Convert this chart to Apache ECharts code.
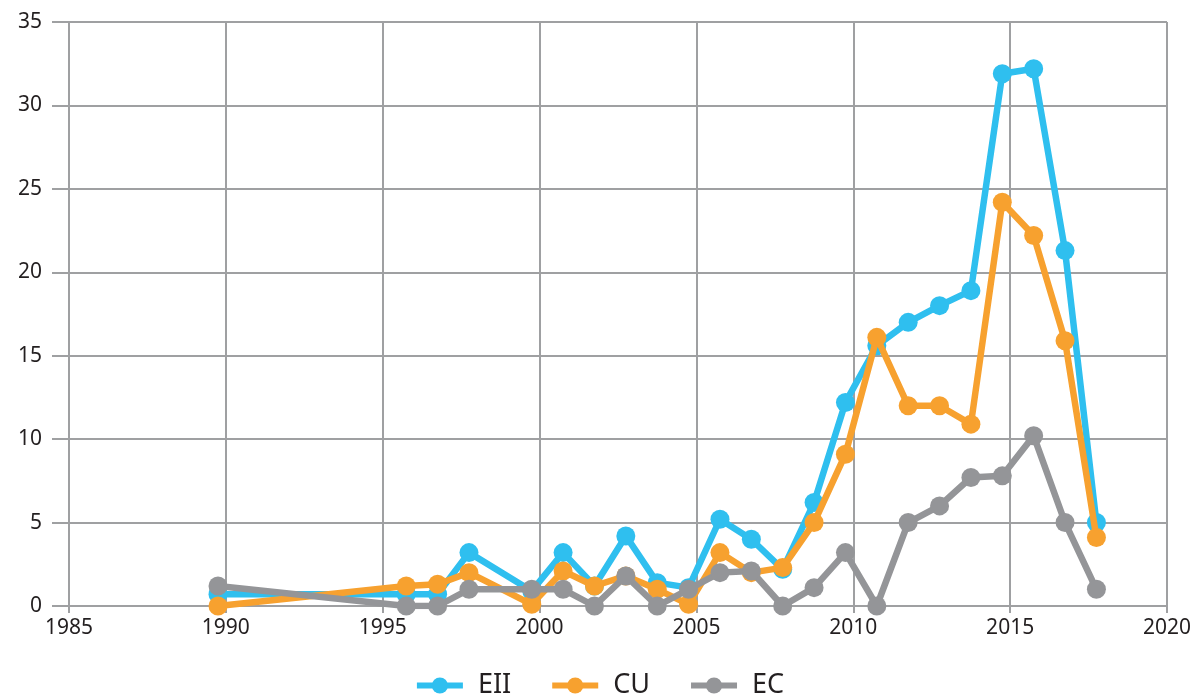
<!DOCTYPE html>
<html>
<head>
<meta charset="utf-8">
<script src="https://cdn.jsdelivr.net/npm/echarts@6/dist/echarts.min.js"></script>
<style>
  html, body { margin: 0; padding: 0; background: #fff; }
  #chart { width: 1198px; height: 698px; }
</style>
</head>
<body>
<div id="chart"></div>
<script>
// Observation dates (decimal years) and yearly counts per series
const dates = [1989.75, 1995.75, 1996.75, 1997.75, 1999.75, 2000.75, 2001.75, 2002.75, 2003.75,
               2004.75, 2005.75, 2006.75, 2007.75, 2008.75, 2009.75, 2010.75, 2011.75, 2012.75,
               2013.75, 2014.75, 2015.75, 2016.75, 2017.75];
const eii = [0.7, 0.7, 0.7, 3.2, 0.9, 3.2, 1.2, 4.2, 1.4, 1.1, 5.2, 4.0, 2.2, 6.2, 12.2, 15.6,
             17.0, 18.0, 18.9, 31.9, 32.2, 21.3, 5.0];
const cu  = [0.0, 1.2, 1.3, 2.0, 0.1, 2.1, 1.2, 1.8, 1.0, 0.1, 3.2, 2.0, 2.3, 5.0, 9.1, 16.1,
             12.0, 12.0, 10.9, 24.2, 22.2, 15.9, 4.1];
const ec  = [1.2, 0.0, 0.0, 1.0, 1.0, 1.0, 0.0, 1.8, 0.0, 1.0, 2.0, 2.1, 0.0, 1.1, 3.2, 0.0,
             5.0, 6.0, 7.7, 7.8, 10.2, 5.0, 1.0];

const seriesNames = ['EII', 'CU', 'EC'];
const seriesColors = ['#2fbfef', '#f7a12f', '#949598'];
const seriesValues = [eii, cu, ec];

const xTicks = { min: 1985, max: 2020, interval: 5 };
const yTicks = { min: 0, max: 35, interval: 5 };

const FONT = '"Noto Sans", "Open Sans", sans-serif';
const TEXT = '#231f20';
const GRID_LINE = '#9fa0a2';

const chart = echarts.init(document.getElementById('chart'), null, { renderer: 'canvas' });

chart.setOption({
  animation: false,
  backgroundColor: '#ffffff',
  grid: { left: 69, right: 31, top: 22, bottom: 92, containLabel: false },
  legend: {
    top: 667,
    left: 'center',
    itemWidth: 46,
    itemHeight: 20,
    itemGap: 38,
    lineStyle: { width: 6 },
    textStyle: { fontFamily: FONT, fontSize: 27, color: TEXT, padding: [0, 0, 0, 10] },
    data: seriesNames
  },
  xAxis: {
    type: 'value',
    min: xTicks.min, max: xTicks.max, interval: xTicks.interval,
    axisLine: { show: true, lineStyle: { color: GRID_LINE, width: 2 } },
    axisTick: { show: true, length: 7, lineStyle: { color: GRID_LINE, width: 2 } },
    splitLine: { show: true, lineStyle: { color: GRID_LINE, width: 2 } },
    axisLabel: { fontFamily: FONT, fontSize: 21, color: TEXT, margin: 12, formatter: v => String(v) }
  },
  yAxis: {
    type: 'value',
    min: yTicks.min, max: yTicks.max, interval: yTicks.interval,
    axisLine: { show: true, lineStyle: { color: GRID_LINE, width: 2 } },
    axisTick: { show: true, length: 17, lineStyle: { color: GRID_LINE, width: 2 } },
    splitLine: { show: true, lineStyle: { color: GRID_LINE, width: 2 } },
    axisLabel: { fontFamily: FONT, fontSize: 21, color: TEXT, margin: 27 }
  },
  series: seriesNames.map((name, i) => ({
    name,
    type: 'line',
    data: dates.map((d, k) => [d, seriesValues[i][k]]),
    symbol: 'circle',
    symbolSize: 19,
    showSymbol: true,
    itemStyle: { color: seriesColors[i] },
    lineStyle: { color: seriesColors[i], width: 6.5 },
    z: 2 + i
  }))
});
</script>
</body>
</html>
